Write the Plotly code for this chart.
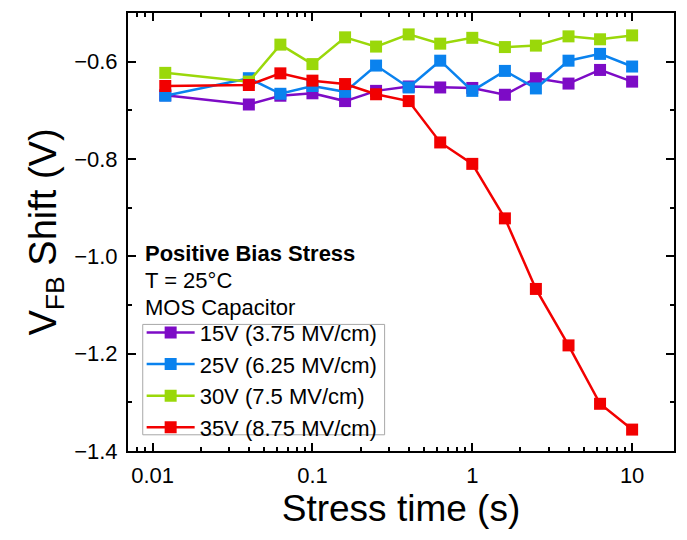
import plotly.graph_objects as go

# Stress time (s)
stress_time = [0.012, 0.04, 0.063, 0.1, 0.16, 0.25, 0.4, 0.63, 1.0, 1.6, 2.5, 4.0, 6.3, 10.0]

# Flat-band voltage shift (V) for each gate bias
vfb_15v = [-0.669, -0.688, -0.670, -0.665, -0.681, -0.660, -0.651, -0.653, -0.654, -0.668, -0.634, -0.645, -0.617, -0.641]
vfb_25v = [-0.670, -0.634, -0.666, -0.650, -0.662, -0.608, -0.653, -0.598, -0.660, -0.619, -0.655, -0.598, -0.584, -0.610]
vfb_30v = [-0.623, -0.641, -0.565, -0.605, -0.550, -0.569, -0.544, -0.563, -0.551, -0.570, -0.567, -0.548, -0.554, -0.546]
vfb_35v = [-0.650, -0.648, -0.624, -0.639, -0.646, -0.667, -0.681, -0.766, -0.810, -0.922, -1.067, -1.183, -1.303, -1.356]

series_names = ["15V (3.75 MV/cm)", "25V (6.25 MV/cm)", "30V (7.5 MV/cm)", "35V (8.75 MV/cm)"]
series_values = [vfb_15v, vfb_25v, vfb_30v, vfb_35v]
series_colors = ["#7D0BC6", "#0A82EE", "#9AD80A", "#F20000"]

x_tick_vals = [0.01, 0.1, 1, 10]
x_tick_text = ["0.01", "0.1", "1", "10"]

info_lines = ["<b>Positive Bias Stress</b>", "T = 25°C", "MOS Capacitor"]

FONT = "Liberation Sans, Arial, sans-serif"

fig = go.Figure()
for name, vals, col in zip(series_names, series_values, series_colors):
    fig.add_trace(go.Scatter(
        x=stress_time, y=vals, name=name, mode="lines+markers",
        line=dict(color=col, width=2.5),
        marker=dict(symbol="square", size=12, color=col),
    ))

minor_x = [m * 10 ** e for e in range(-3, 2) for m in range(2, 10)]

axis_common = dict(
    showline=True, linecolor="black", linewidth=2, mirror="allticks",
    ticks="inside", ticklen=8, tickwidth=1.5, tickcolor="black",
    showgrid=False, zeroline=False,
    tickfont=dict(family=FONT, size=22, color="black"),
)

fig.update_xaxes(
    type="log", range=[-2.154, 1.262],
    tickmode="array", tickvals=x_tick_vals, ticktext=x_tick_text,
    minor=dict(tickmode="array", tickvals=minor_x, ticks="inside", ticklen=4,
               tickwidth=1.5, tickcolor="black", showgrid=False),
    ticklabelstandoff=4,
    title=dict(text="Stress time (s)", font=dict(family=FONT, size=37, color="black"), standoff=8),
    **axis_common,
)
fig.update_yaxes(
    range=[-1.4, -0.5], dtick=0.2, tick0=-1.4, tickformat=".1f",
    minor=dict(dtick=0.1, ticks="inside", ticklen=4, tickwidth=1.5,
               tickcolor="black", showgrid=False),
    ticklabelstandoff=4,
    title=dict(text="V<sub>FB</sub> Shift (V)", font=dict(family=FONT, size=38, color="black"), standoff=6),
    **axis_common,
)

for i, line in enumerate(info_lines):
    fig.add_annotation(
        text=line, xref="paper", yref="paper", x=0.027, y=0.452 - i * 0.062,
        xanchor="left", yanchor="middle", showarrow=False,
        font=dict(family=FONT, size=22, color="black"),
    )

# frame behind the legend entries
fig.add_shape(
    type="rect", xref="paper", yref="paper",
    x0=0.027, x1=0.470, y0=0.037, y1=0.289,
    line=dict(color="#A8A8A8", width=1), fillcolor="white", layer="above",
)

fig.update_layout(
    width=687, height=540,
    margin=dict(l=128, r=11, t=11, b=89),
    paper_bgcolor="white", plot_bgcolor="white",
    showlegend=True,
    legend=dict(
        x=0.025, y=0.318, xanchor="left", yanchor="top",
        bgcolor="rgba(0,0,0,0)", borderwidth=0,
        font=dict(family=FONT, size=22, color="black"),
        tracegroupgap=0, itemwidth=48,
    ),
)

fig.write_html("out.html")
